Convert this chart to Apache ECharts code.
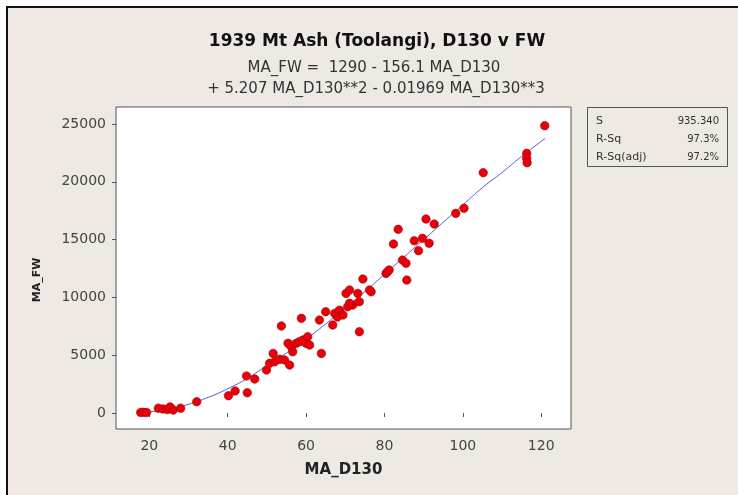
<!DOCTYPE html>
<html>
<head>
<meta charset="utf-8">
<script src="https://cdn.jsdelivr.net/npm/echarts@6/dist/echarts.min.js"></script>
<style>
  html, body { margin: 0; padding: 0; background: #fff; }
  #chart { width: 738px; height: 495px; }
</style>
</head>
<body>
<div id="chart"></div>
<script>
// observed points [MA_D130, MA_FW]
const observed = [
  [17.8, 50], [18.5, 60], [19.3, 40],
  [22.3, 420], [23.5, 350], [24.6, 300], [25.3, 530], [26.1, 260], [28.0, 420],
  [32.1, 980],
  [40.2, 1500], [41.9, 1900], [45.0, 1760], [44.8, 3200], [46.9, 2940],
  [49.9, 3720], [50.7, 4300], [51.6, 5160], [52.0, 4440], [53.3, 4650], [54.5, 4590], [55.8, 4150],
  [53.7, 7530],
  [55.4, 6030], [56.2, 5730], [57.5, 6030], [56.6, 5300], [58.3, 6170], [59.2, 6310],
  [60.0, 6030], [60.4, 6600], [60.9, 5880],
  [58.8, 8190], [63.9, 5160], [63.4, 8040],
  [65.0, 8760], [66.8, 7610], [67.3, 8620], [68.5, 8900], [68.0, 8300], [69.4, 8480],
  [70.6, 9190], [71.9, 9340], [73.6, 9630],
  [70.2, 10350], [71.1, 10640], [73.2, 10350], [71.1, 9490],
  [73.6, 7030],
  [74.5, 11590], [76.6, 10490], [76.2, 10640],
  [80.4, 12080], [80.8, 12220], [81.2, 12370],
  [85.7, 11500], [84.6, 13230], [85.5, 12950],
  [82.3, 14620], [83.5, 15890],
  [87.6, 14900], [89.7, 15110], [88.7, 14040], [91.4, 14680],
  [90.6, 16780], [92.7, 16350],
  [98.2, 17270], [100.3, 17710],
  [105.2, 20790],
  [116.3, 22460], [116.3, 22030], [116.4, 21650],
  [120.9, 24850]
]

// fitted curve
const fitted = [
  [17.5, 50], [20, 100], [25, 330], [30, 760], [35, 1350], [40, 2100], [45, 3000],
  [50, 4100], [55, 5200], [60, 6400], [65, 7700], [70, 9100], [75, 10500],
  [80, 12000], [85, 13500], [90, 15000], [95, 16500], [100, 18000],
  [105, 19500], [110, 20800], [115, 22200], [121, 23750]
]

const xTicks = [20, 40, 60, 80, 100, 120]
const yTicks = [0, 5000, 10000, 15000, 20000, 25000]

const titleLines = [
  '1939 Mt Ash (Toolangi), D130 v FW',
  'MA_FW =  1290 - 156.1 MA_D130',
  '+ 5.207 MA_D130**2 - 0.01969 MA_D130**3'
]

const statLabels = ['S', 'R-Sq', 'R-Sq(adj)']
const statValues = ['935.340', '97.3%', '97.2%']

const chart = echarts.init(document.getElementById('chart'))

const font = 'Tahoma, "DejaVu Sans", sans-serif'

const statTexts = []
statLabels.forEach((lab, i) => {
  statTexts.push({
    type: 'text', x: 596, y: 121 + i * 18,
    style: { text: lab, fill: '#333', font: '11px ' + font, verticalAlign: 'middle' }
  })
  statTexts.push({
    type: 'text', x: 719, y: 121 + i * 18,
    style: { text: statValues[i], fill: '#333', font: '10px ' + font, align: 'right', verticalAlign: 'middle' }
  })
})

const option = {
  backgroundColor: '#efe9e4',
  animation: false,
  grid: {
    left: 116, top: 107, right: 167, bottom: 66,
    show: true, backgroundColor: '#fff', borderColor: '#555', borderWidth: 1
  },
  xAxis: {
    type: 'value', min: 11.5, max: 127.6,
    name: 'MA_D130', nameLocation: 'middle', nameGap: 34,
    nameTextStyle: { fontFamily: font, fontWeight: 'bold', fontSize: 15, color: '#222' },
    axisLine: { show: false },
    splitLine: { show: false },
    axisTick: { show: true, length: 4, customValues: xTicks, lineStyle: { color: '#555' } },
    axisLabel: { customValues: xTicks, color: '#444', fontFamily: font, fontSize: 14, margin: 10 }
  },
  yAxis: {
    type: 'value', min: -1380, max: 26470,
    axisLine: { show: false },
    splitLine: { show: false },
    axisTick: { show: true, length: 4, customValues: yTicks, lineStyle: { color: '#555' } },
    axisLabel: {
      customValues: yTicks, color: '#444', fontFamily: font, fontSize: 14, margin: 10,
      formatter: (v) => String(v)
    }
  },
  series: [
    {
      type: 'line', data: fitted, smooth: true, showSymbol: false,
      lineStyle: { color: '#5a5ad8', width: 1 }, z: 3
    },
    {
      type: 'scatter', data: observed, symbolSize: 8.5,
      itemStyle: { color: '#e8000a', opacity: 1, borderColor: '#a80000', borderWidth: 0.6 }, z: 4
    }
  ],
  graphic: [
    { type: 'rect', shape: { x: 0, y: 0, width: 738, height: 6 }, style: { fill: '#fff' } },
    { type: 'rect', shape: { x: 0, y: 0, width: 6, height: 495 }, style: { fill: '#fff' } },
    { type: 'line', shape: { x1: 6, y1: 7, x2: 738, y2: 7 }, style: { stroke: '#111', lineWidth: 2 } },
    { type: 'line', shape: { x1: 7, y1: 6, x2: 7, y2: 495 }, style: { stroke: '#111', lineWidth: 2 } },
    {
      type: 'text', x: 377, y: 42,
      style: { text: titleLines[0], fill: '#111', font: 'bold 17px ' + font, align: 'center', verticalAlign: 'middle' }
    },
    {
      type: 'text', x: 374, y: 68,
      style: { text: titleLines[1], fill: '#333', font: '15px ' + font, align: 'center', verticalAlign: 'middle' }
    },
    {
      type: 'text', x: 376, y: 89,
      style: { text: titleLines[2], fill: '#333', font: '15px ' + font, align: 'center', verticalAlign: 'middle' }
    },
    {
      type: 'text', x: 37, y: 280, rotation: Math.PI / 2,
      style: { text: 'MA_FW', fill: '#222', font: 'bold 11px ' + font, align: 'center', verticalAlign: 'middle' }
    },
    {
      type: 'rect', shape: { x: 587.5, y: 107.5, width: 140, height: 59 },
      style: { fill: '#efe9e4', stroke: '#555', lineWidth: 1 }
    },
    ...statTexts
  ]
}

chart.setOption(option)
</script>
</body>
</html>
